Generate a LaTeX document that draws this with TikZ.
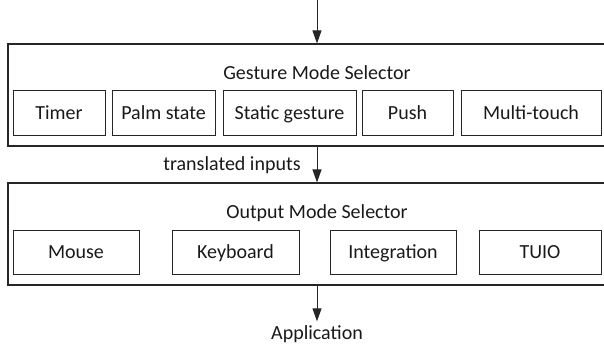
\documentclass[tikz,border=0pt]{standalone}
\usepackage{fontspec}
\setmainfont{Carlito}
\usetikzlibrary{arrows.meta}
\begin{document}
\begin{tikzpicture}[x=1pt,y=-1pt,
  every node/.style={font=\fontsize{20}{24}\selectfont, text=black!90, text height=17pt, text depth=4pt},
  frame/.style={draw=black!85, line width=1.1pt, minimum height=102pt, minimum width=612pt, inner sep=0pt},
  unit/.style={draw=black!85, line width=1pt, inner sep=0pt},
  flow/.style={draw=black!85, line width=1pt, -{Triangle[length=13pt,width=9pt]}}
]
\useasboundingbox (0,0) rectangle (604,345);
\clip (0,0) rectangle (604,345);

% stage frames (they run past the right edge)
\node[frame] (gms) at (314,95) {};
\node[frame] (oms) at (314,234) {};

% stage titles
\node (gmsT) at (317,73) {Gesture Mode Selector};
\node (omsT) at (317,212) {Output Mode Selector};

% gesture detectors
\node[unit, minimum width=92pt,  minimum height=45pt] (timer)  at (59,112.5)   {Timer};
\node[unit, minimum width=103pt, minimum height=45pt] (palm)   at (163.5,112.5) {Palm state};
\node[unit, minimum width=133pt, minimum height=45pt] (static) at (289.5,112.5) {Static gesture};
\node[unit, minimum width=91pt,  minimum height=45pt] (push)   at (407.5,112.5) {Push};
\node[unit, minimum width=140pt, minimum height=45pt] (multi)  at (531,112.5)   {Multi-touch};

% output modes
\node[unit, minimum width=126pt, minimum height=44pt] (mouse) at (76,252)    {Mouse};
\node[unit, minimum width=127pt, minimum height=44pt] (kbd)   at (235.5,252) {Keyboard};
\node[unit, minimum width=126pt, minimum height=44pt] (integ) at (393,252)   {Integration};
\node[unit, minimum width=122pt, minimum height=44pt] (tuio)  at (540,252)   {TUIO};

% data flow
\coordinate (src) at (317,0);
\node[inner sep=1pt] (app) at (317,333) {Application};
\node (tr) at (232,164) {translated inputs};

\draw[flow] (src) -- (src |- gms.north);
\draw[flow] (src |- gms.south) -- (src |- oms.north);
\draw[flow] (src |- oms.south) -- (app.north);
\end{tikzpicture}
\end{document}
